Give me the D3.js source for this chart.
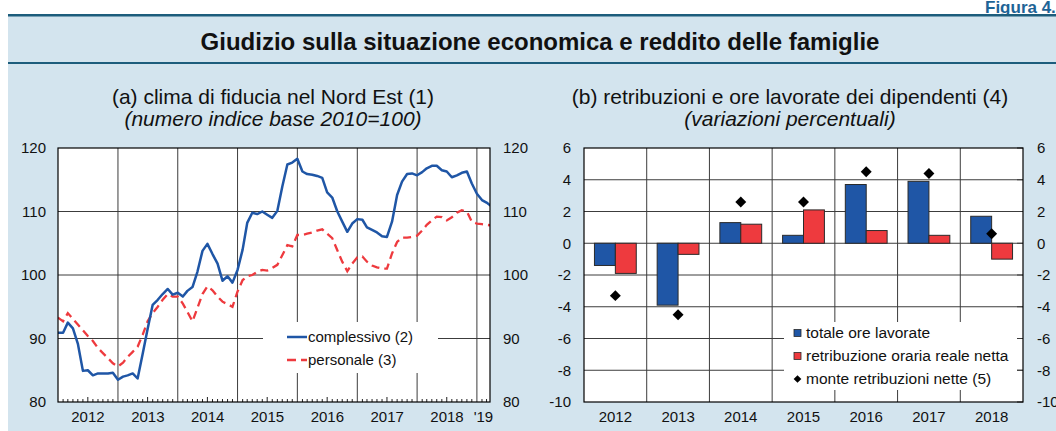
<!DOCTYPE html>
<html>
<head>
<meta charset="utf-8">
<script src="https://cdn.jsdelivr.net/npm/d3@7"></script>
<style>
  body { margin: 0; background: #fff; }
  svg { display: block; font-family: "Liberation Sans", Arial, sans-serif; }
</style>
</head>
<body>
<svg id="chart" width="1056" height="431"></svg>
<script>
// ---- data ----
// (a) monthly index, Jan 2012 onwards
var firstMonth = new Date(2012, 0, 1);
var complessivo = [90.9, 90.9, 92.5, 91.6, 89.2, 84.9, 85.0, 84.2, 84.5, 84.5, 84.5, 84.6,
  83.5, 84.0, 84.2, 84.5, 83.7, 87.6, 91.5, 95.3, 96.1, 97.0, 97.8, 96.9,
  97.2, 96.6, 97.5, 98.1, 100.5, 103.8, 104.9, 103.3, 101.8, 99.1, 99.8, 98.8,
  100.8, 104.0, 108.2, 109.8, 109.6, 110.0, 109.5, 109.0, 110.1, 113.9, 117.4, 117.7,
  118.3, 116.3, 115.9, 115.8, 115.6, 115.3, 113.0, 112.2, 110.0, 108.4, 106.8, 108.1,
  108.8, 108.7, 107.5, 107.1, 106.7, 106.1, 106.0, 108.4, 112.6, 114.7, 115.9, 116.0,
  115.7, 116.2, 116.8, 117.2, 117.2, 116.5, 116.3, 115.4, 115.7, 116.1, 116.3, 114.4,
  112.8, 111.8, 111.4, 110.8];
var personale = [93.3, 92.7, 94.0, 93.1, 92.2, 91.3, 90.4, 89.6, 88.5, 87.7, 86.9, 86.1,
  85.6, 86.2, 87.1, 87.9, 88.7, 90.6, 92.7, 94.0, 95.0, 96.1, 97.0, 96.6,
  96.6, 95.5, 94.2, 92.7, 94.8, 97.0, 98.2, 97.6, 96.6, 95.8, 95.4, 95.0,
  97.4, 99.2, 99.8, 100.0, 100.5, 100.8, 100.7, 101.1, 101.6, 103.1, 104.7, 104.5,
  106.3, 106.3, 106.5, 106.7, 107.0, 107.2, 106.5, 105.8, 103.9, 102.1, 100.6, 101.8,
  102.8, 102.9, 102.1, 101.5, 101.2, 101.0, 101.0, 103.4, 105.2, 105.9, 105.9, 106.0,
  106.2, 107.0, 107.9, 108.6, 109.2, 109.1, 108.6, 109.1, 109.8, 110.2, 110.0, 108.4,
  108.1, 108.0, 107.9, 107.8];
var yearLabelsA = ["2012", "2013", "2014", "2015", "2016", "2017", "2018", "'19"];
var ticksA = [80, 90, 100, 110, 120];

// (b) yearly percentage changes
var years = ["2012", "2013", "2014", "2015", "2016", "2017", "2018"];
var oreLavorate = [-1.4, -3.9, 1.3, 0.5, 3.7, 3.9, 1.7];
var retribOraria = [-1.9, -0.7, 1.2, 2.1, 0.8, 0.5, -1.0];
var monteRetrib = [-3.3, -4.5, 2.6, 2.6, 4.5, 4.4, 0.6];
var ticksB = [-10, -8, -6, -4, -2, 0, 2, 4, 6];

var blue = "#1f56a6", red = "#ee3a3e", grid = "#3c3c3c", panel = "#d3e4ee", rule = "#1d5d7c";
var plain = d => String(d);   // hyphen minus, as in the original

var svg = d3.select("#chart");

// ---- header ----
svg.append("text")
  .attr("x", 985).attr("y", 13)
  .style("font-size", "17px").style("font-weight", "bold")
  .attr("fill", "#1e6496")
  .text("Figura 4.");

svg.append("rect").attr("x", 8).attr("y", 16).attr("width", 1048).attr("height", 415).attr("fill", panel);
svg.append("rect").attr("x", 8).attr("y", 14).attr("width", 1048).attr("height", 2.5).attr("fill", rule);
svg.append("rect").attr("x", 8).attr("y", 62).attr("width", 1048).attr("height", 2).attr("fill", rule);

svg.append("text")
  .attr("x", 540).attr("y", 50)
  .attr("text-anchor", "middle")
  .style("font-size", "24px").style("font-weight", "bold")
  .attr("fill", "#111")
  .text("Giudizio sulla situazione economica e reddito delle famiglie");

// subtitles
function subtitle(cx, line1, line2) {
  svg.append("text").attr("x", cx).attr("y", 104).attr("text-anchor", "middle")
    .style("font-size", "21px").attr("fill", "#111").text(line1);
  svg.append("text").attr("x", cx).attr("y", 126).attr("text-anchor", "middle")
    .style("font-size", "21px").style("font-style", "italic").attr("fill", "#111").text(line2);
}
subtitle(273, "(a) clima di fiducia nel Nord Est (1)", "(numero indice base 2010=100)");
subtitle(790, "(b) retribuzioni e ore lavorate dei dipendenti (4)", "(variazioni percentuali)");

var plotTop = 148, plotBottom = 402;

// =============== panel (a) ===============
var ax0 = 58, ax1 = 490;
var endDate = new Date(2019, 2, 22);
var x = d3.scaleTime().domain([firstMonth, endDate]).range([ax0, ax1]);
var y = d3.scaleLinear().domain([80, 120]).range([plotBottom, plotTop]);

var gA = svg.append("g");
gA.append("rect").attr("x", ax0).attr("y", plotTop).attr("width", ax1 - ax0).attr("height", plotBottom - plotTop).attr("fill", "#fff");

// horizontal grid
gA.selectAll(".hg").data(ticksA.slice(1, -1)).enter().append("line")
  .attr("x1", ax0).attr("x2", ax1)
  .attr("y1", d => y(d)).attr("y2", d => y(d))
  .attr("stroke", grid).attr("stroke-width", 1);

// vertical grid at year starts
var yearStarts = d3.timeYear.range(new Date(2013, 0, 1), endDate);
gA.selectAll(".vg").data(yearStarts).enter().append("line")
  .attr("x1", d => x(d)).attr("x2", d => x(d))
  .attr("y1", plotTop).attr("y2", plotBottom)
  .attr("stroke", grid).attr("stroke-width", 1);

// monthly minor ticks
var monthTicks = d3.timeMonth.range(firstMonth, endDate).filter(d => d.getMonth() !== 0);
gA.selectAll(".mt").data(monthTicks).enter().append("line")
  .attr("x1", d => x(d)).attr("x2", d => x(d))
  .attr("y1", plotBottom).attr("y2", d => plotBottom - (d.getMonth() === 6 ? 5 : 3))
  .attr("stroke", "#222").attr("stroke-width", 1);

// legend box
gA.append("rect").attr("x", 263).attr("y", 322).attr("width", 175).attr("height", 51).attr("fill", "#fff");

// lines
svg.append("clipPath").attr("id", "clipA").append("rect")
  .attr("x", ax0).attr("y", plotTop).attr("width", ax1 - ax0).attr("height", plotBottom - plotTop);

var line = d3.line()
  .x((d, i) => x(d3.timeMonth.offset(firstMonth, i)))
  .y(d => y(d));

gA.append("path").datum(personale)
  .attr("d", line).attr("fill", "none")
  .attr("stroke", red).attr("stroke-width", 2.3)
  .attr("stroke-dasharray", "8,5")
  .attr("clip-path", "url(#clipA)");
gA.append("path").datum(complessivo)
  .attr("d", line).attr("fill", "none")
  .attr("stroke", blue).attr("stroke-width", 2.5)
  .attr("stroke-linejoin", "round")
  .attr("clip-path", "url(#clipA)");

gA.append("rect").attr("x", ax0).attr("y", plotTop).attr("width", ax1 - ax0).attr("height", plotBottom - plotTop)
  .attr("fill", "none").attr("stroke", "#000").attr("stroke-width", 1.2);

// legend content
gA.append("line").attr("x1", 287).attr("x2", 307).attr("y1", 337).attr("y2", 337)
  .attr("stroke", blue).attr("stroke-width", 2.5);
gA.append("line").attr("x1", 287).attr("x2", 307).attr("y1", 360).attr("y2", 360)
  .attr("stroke", red).attr("stroke-width", 2.3).attr("stroke-dasharray", "9,5");
gA.append("text").attr("x", 308).attr("y", 337).attr("dy", "0.35em")
  .style("font-size", "15px").attr("fill", "#111").text("complessivo (2)");
gA.append("text").attr("x", 308).attr("y", 360).attr("dy", "0.35em")
  .style("font-size", "15px").attr("fill", "#111").text("personale (3)");

// y axes
gA.append("g").attr("transform", `translate(${ax0},0)`)
  .call(d3.axisLeft(y).tickValues(ticksA).tickFormat(plain).tickSize(0).tickPadding(12));
gA.append("g").attr("transform", `translate(${ax1},0)`)
  .call(d3.axisRight(y).tickValues(ticksA).tickFormat(plain).tickSize(0).tickPadding(13));

// x labels at mid-year
var yearMids = d3.range(yearLabelsA.length).map(function(k) {
  var s = new Date(2012 + k, 0, 1);
  var e = k === yearLabelsA.length - 1 ? endDate : new Date(2013 + k, 0, 1);
  return (x(s) + x(e)) / 2;
});
gA.selectAll(".xl").data(yearLabelsA).enter().append("text")
  .attr("x", (d, i) => yearMids[i]).attr("y", 422)
  .attr("text-anchor", "middle")
  .style("font-size", "15px").attr("fill", "#111")
  .text(d => d);

// =============== panel (b) ===============
var bx0 = 584, bx1 = 1023;
var xb = d3.scaleBand().domain(years).range([bx0, bx1]);
var xs = d3.scaleBand().domain(["ore", "retr"]).range([0, xb.bandwidth()]).paddingOuter(0.5);
var yb = d3.scaleLinear().domain([-10, 6]).range([plotBottom, plotTop]);

var gB = svg.append("g");
gB.append("rect").attr("x", bx0).attr("y", plotTop).attr("width", bx1 - bx0).attr("height", plotBottom - plotTop).attr("fill", "#fff");

gB.selectAll(".hg").data(ticksB.slice(1, -1)).enter().append("line")
  .attr("x1", bx0).attr("x2", bx1)
  .attr("y1", d => yb(d)).attr("y2", d => yb(d))
  .attr("stroke", grid).attr("stroke-width", 1);
gB.selectAll(".vg").data(years.slice(1)).enter().append("line")
  .attr("x1", d => xb(d)).attr("x2", d => xb(d))
  .attr("y1", plotTop).attr("y2", plotBottom)
  .attr("stroke", grid).attr("stroke-width", 1);

// legend box
gB.append("rect").attr("x", 784).attr("y", 322).attr("width", 233).attr("height", 68).attr("fill", "#fff");

// inner ticks on right side
gB.selectAll(".rt").data(ticksB).enter().append("line")
  .attr("x1", bx1 - 6).attr("x2", bx1)
  .attr("y1", d => yb(d)).attr("y2", d => yb(d))
  .attr("stroke", grid).attr("stroke-width", 1);

function bars(values, key, color) {
  gB.selectAll(".b" + key).data(values).enter().append("rect")
    .attr("x", (d, i) => xb(years[i]) + xs(key))
    .attr("width", xs.bandwidth())
    .attr("y", d => yb(Math.max(0, d)))
    .attr("height", d => Math.abs(yb(d) - yb(0)))
    .attr("fill", color).attr("stroke", "#2a2a2a").attr("stroke-width", 1);
}
bars(oreLavorate, "ore", blue);
bars(retribOraria, "retr", red);

var diamond = d3.symbol().type(d3.symbolSquare).size(60);
gB.selectAll(".dm").data(monteRetrib).enter().append("path")
  .attr("d", diamond)
  .attr("transform", (d, i) => `translate(${xb(years[i]) + xb.bandwidth() / 2},${yb(d)}) rotate(45)`)
  .attr("fill", "#000");

gB.append("rect").attr("x", bx0).attr("y", plotTop).attr("width", bx1 - bx0).attr("height", plotBottom - plotTop)
  .attr("fill", "none").attr("stroke", "#000").attr("stroke-width", 1.2);

// legend content
var legB = [
  { label: "totale ore lavorate", color: blue, type: "sq" },
  { label: "retribuzione oraria reale netta", color: red, type: "sq" },
  { label: "monte retribuzioni nette (5)", color: "#000", type: "dm" }
];
legB.forEach(function(d, i) {
  var cy = 333 + i * 23;
  if (d.type === "sq") {
    gB.append("rect").attr("x", 794).attr("y", cy - 3.5).attr("width", 7).attr("height", 7)
      .attr("fill", d.color).attr("stroke", "#2a2a2a").attr("stroke-width", 0.8);
  } else {
    gB.append("path").attr("d", d3.symbol().type(d3.symbolSquare).size(30))
      .attr("transform", `translate(797.5,${cy}) rotate(45)`).attr("fill", "#000");
  }
  gB.append("text").attr("x", 806).attr("y", cy).attr("dy", "0.35em")
    .style("font-size", "15.5px").attr("fill", "#111").text(d.label);
});

gB.append("g").attr("transform", `translate(${bx0},0)`)
  .call(d3.axisLeft(yb).tickValues(ticksB).tickFormat(plain).tickSize(0).tickPadding(13));
gB.append("g").attr("transform", `translate(${bx1},0)`)
  .call(d3.axisRight(yb).tickValues(ticksB).tickFormat(plain).tickSize(0).tickPadding(14));

gB.selectAll(".xl").data(years).enter().append("text")
  .attr("x", d => xb(d) + xb.bandwidth() / 2).attr("y", 422)
  .attr("text-anchor", "middle")
  .style("font-size", "15px").attr("fill", "#111")
  .text(d => d);

// axis styling
svg.selectAll(".domain").remove();
svg.selectAll(".tick text")
  .style("font-size", "15px")
  .style("font-family", "'Liberation Sans', Arial, sans-serif")
  .attr("fill", "#111");
</script>
</body>
</html>
